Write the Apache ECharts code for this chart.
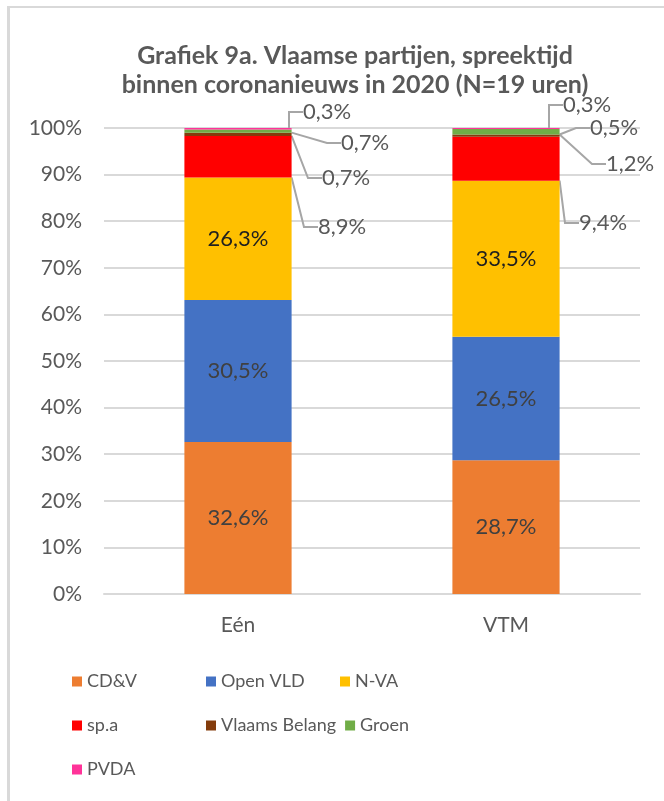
<!DOCTYPE html>
<html>
<head>
<meta charset="utf-8">
<script src="https://cdn.jsdelivr.net/npm/echarts@6/dist/echarts.min.js"></script>
<style>
  body { margin: 0; background: #fff; }
  #frame {
    position: absolute; left: 7px; top: 6px; width: 657px; height: 795px;
    border-top: 2px solid #d9d9d9; border-left: 3px solid #d9d9d9;
  }
  #chart { position: absolute; left: 0; top: 0; width: 664px; height: 801px; }
</style>
</head>
<body>
<div id="frame"></div>
<div id="chart"></div>
<script>
const zenders = ["Eén", "VTM"];
const partijen = ["CD&V", "Open VLD", "N-VA", "sp.a", "Vlaams Belang", "Groen", "PVDA"];
const kleuren = ["#ED7D31", "#4472C4", "#FFC000", "#FF0000", "#843C0C", "#70AD47", "#FF3399"];

const cdv = [32.6, 28.7];
const openVld = [30.5, 26.5];
const nva = [26.3, 33.5];
const spa = [8.9, 9.4];
const vlaamsBelang = [0.7, 0.5];
const groen = [0.7, 1.2];
const pvda = [0.3, 0.3];

const yTicks = [0, 10, 20, 30, 40, 50, 60, 70, 80, 90, 100];

// where the callout labels of the thin slices sit (per series, per bar)
const callouts = {
  "sp.a": [[318, 227], [579, 223]],
  "Vlaams Belang": [[322, 178], [590, 128]],
  "Groen": [[341, 143], [606, 164]],
  "PVDA": [[303, 112], [563, 105]],
};

const fmt = (v) => v.toFixed(1).replace(".", ",") + "%";
const FONT = "Lato";

const chart = echarts.init(document.getElementById("chart"));

const values = [cdv, openVld, nva, spa, vlaamsBelang, groen, pvda];

const series = partijen.map((name, i) => {
  const inside = i < 3;
  return {
    name: name,
    type: "bar",
    stack: "totaal",
    barWidth: "40%",
    data: values[i],
    itemStyle: { color: kleuren[i] },
    label: {
      show: true,
      position: inside ? "inside" : "right",
      formatter: (p) => fmt(p.value),
      fontFamily: FONT,
      fontSize: 22,
      color: inside ? (i === 2 ? "#1f1f1f" : "#404040") : "#595959",
    },
    labelLine: inside ? { show: false } : {
      show: true,
      length2: 14,
      lineStyle: { color: "#a6a6a6", width: 2 },
    },
    labelLayout: inside ? null : function (p) {
      const pos = callouts[name][p.dataIndex];
      return { x: pos[0], y: pos[1], align: "left", verticalAlign: "middle" };
    },
  };
});

chart.setOption({
  animation: false,
  title: {
    text: "Grafiek 9a. Vlaamse partijen, spreektijd\nbinnen coronanieuws in 2020 (N=19 uren)",
    left: 350,
    top: 36,
    textAlign: "center",
    textStyle: {
      fontFamily: FONT,
      fontSize: 25,
      fontWeight: "bold",
      color: "#595959",
      lineHeight: 29,
    },
  },
  legend: {
    data: partijen,
    left: 67,
    top: 659,
    width: 400,
    itemWidth: 10,
    itemHeight: 10,
    itemGap: 9,
    icon: "rect",
    textStyle: {
      fontFamily: FONT,
      fontSize: 18,
      color: "#595959",
      width: 110,
      lineHeight: 35,
    },
  },
  grid: { left: 104, right: 24, top: 128, bottom: 207, containLabel: false },
  xAxis: {
    type: "category",
    data: zenders,
    axisTick: { show: false },
    axisLine: { lineStyle: { color: "#d9d9d9", width: 2 } },
    axisLabel: { fontFamily: FONT, fontSize: 21, color: "#595959", margin: 21 },
  },
  yAxis: {
    type: "value",
    min: yTicks[0],
    max: yTicks[yTicks.length - 1],
    interval: 10,
    axisLine: { show: false },
    axisTick: { show: false },
    splitLine: { lineStyle: { color: "#d9d9d9", width: 2 } },
    axisLabel: {
      fontFamily: FONT,
      fontSize: 21,
      color: "#595959",
      margin: 22,
      formatter: "{value}%",
    },
  },
  series: series,
});
</script>
</body>
</html>
